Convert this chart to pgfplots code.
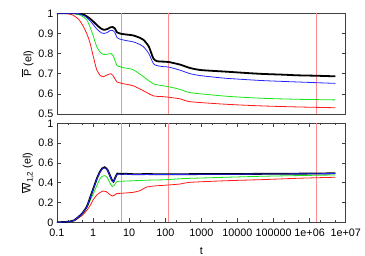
\documentclass[border=0pt]{standalone}
\usepackage{pgfplots}
\pgfplotsset{compat=1.18}
\usepackage{fontspec}
\setmainfont{Liberation Sans}
\definecolor{vline}{rgb}{1,0.55,0.55}
\definecolor{cblue}{rgb}{0.15,0.15,1}
\definecolor{cgreen}{rgb}{0.1,0.9,0.1}
\definecolor{cred}{rgb}{1,0.1,0.1}
\begin{document}
\begin{tikzpicture}
\useasboundingbox (0,0) rectangle (365pt,256pt);
% ---------------- top panel ----------------
\begin{semilogxaxis}[
  scale only axis, width=288.7pt,
  xmin=0.1, xmax=1e7,
  axis line style={black!75, line width=0.8pt},
  tick style={black!75, line width=0.6pt},
  major tick length=4pt, minor tick length=2pt,
  tick align=inside,
  ytick pos=both,
  font=\fontsize{10.8}{13}\selectfont,
  /pgf/number format/assume math mode=true,
  yticklabel style={/pgf/number format/fixed},
  at={(57pt,142pt)}, anchor=south west,
  height=100.7pt,
  ymin=0.5, ymax=1,
  ytick={0.5,0.6,0.7,0.8,0.9,1},
  xtick=\empty, minor xtick={},
  ylabel={$\overline{\mbox{P}}$ (el)},
  ylabel style={yshift=-2pt},
]
\addplot[vline, line width=1pt] coordinates {(6.19,0.5) (6.19,1)};
\addplot[vline, line width=1pt] coordinates {(125.1,0.5) (125.1,1)};
\addplot[vline, line width=1pt] coordinates {(1.516e6,0.5) (1.516e6,1)};
\addplot[cred, line width=0.8pt, smooth, tension=0.4] coordinates {
(0.1,1) (0.2,0.998) (0.28,0.99) (0.4,0.97) (0.54,0.934) (0.7,0.89) (0.83,0.85) (1.0,0.79) (1.26,0.72) (1.6,0.69) (1.94,0.685) (2.5,0.695) (3.16,0.70) (3.6,0.69) (4.54,0.66) (5.5,0.655) (6.12,0.652) (13,0.64) (25,0.615) (47,0.59) (89,0.586) (126,0.583) (261,0.575) (494,0.561) (5100,0.548) (49000,0.54) (460000,0.535) (5.2e6,0.531)};
\addplot[cgreen, line width=0.8pt, smooth, tension=0.4] coordinates {
(0.1,1) (0.2,1) (0.3,0.998) (0.45,0.99) (0.67,0.967) (0.83,0.93) (1.0,0.89) (1.26,0.834) (1.6,0.805) (1.94,0.796) (2.5,0.797) (3.16,0.80) (3.6,0.79) (4.54,0.743) (5.5,0.735) (6.12,0.732) (8,0.728) (13,0.72) (25,0.685) (47,0.65) (89,0.64) (126,0.635) (261,0.622) (494,0.606) (5100,0.588) (49000,0.578) (460000,0.573) (5.2e6,0.570)};
\addplot[black, line width=1.8pt, smooth, tension=0.4] coordinates {
(0.1,1) (0.3,1) (0.44,0.998) (0.6,0.99) (0.8,0.975) (1.0,0.96) (1.3,0.94) (1.7,0.923) (2.0,0.918) (2.5,0.922) (3.0,0.93) (3.5,0.932) (4.0,0.925) (4.6,0.905) (5.5,0.90) (6.1,0.898) (8,0.895) (13,0.89) (20,0.878) (25,0.868) (35,0.835) (47,0.775) (60,0.762) (89,0.76) (126,0.758) (200,0.75) (261,0.745) (494,0.728) (1000,0.718) (5100,0.710) (20000,0.703) (49000,0.699) (200000,0.695) (460000,0.692) (1.5e6,0.69) (5.2e6,0.687)};
\addplot[cblue, line width=0.8pt, smooth, tension=0.4] coordinates {
(0.1,1) (0.3,1) (0.4,0.998) (0.6,0.985) (0.8,0.965) (1.0,0.945) (1.3,0.92) (1.7,0.903) (2.0,0.90) (2.5,0.905) (3.0,0.915) (3.5,0.915) (4.0,0.905) (4.6,0.88) (5.5,0.872) (6.1,0.87) (8,0.865) (13,0.858) (20,0.845) (25,0.834) (35,0.8) (47,0.75) (60,0.74) (89,0.735) (126,0.733) (261,0.717) (494,0.70) (1000,0.69) (5100,0.677) (49000,0.666) (460000,0.659) (5.2e6,0.652)};
\end{semilogxaxis}
% ---------------- bottom panel ----------------
\begin{semilogxaxis}[
  scale only axis, width=288.7pt,
  xmin=0.1, xmax=1e7,
  axis line style={black!75, line width=0.8pt},
  tick style={black!75, line width=0.6pt},
  major tick length=4pt, minor tick length=2pt,
  tick align=inside,
  ytick pos=both,
  font=\fontsize{10.8}{13}\selectfont,
  /pgf/number format/assume math mode=true,
  yticklabel style={/pgf/number format/fixed},
  xticklabel style={yshift=-3pt},
  at={(57pt,33.7pt)}, anchor=south west,
  height=99pt,
  ymin=0, ymax=1,
  ytick={0,0.2,0.4,0.6,0.8,1},
  xtick={0.1,1,10,100,1000,10000,100000,1000000,10000000},
  xticklabels={0.1,1,10,100,1000,10000,100000,1e+06,1e+07},
  minor xtick={0.2,0.5,2,5,20,50,200,500,2000,5000,20000,50000,200000,500000,2000000,5000000},
  xtick pos=both,
  xlabel={t},
  xlabel style={yshift=-4pt},
  ylabel={$\overline{\mbox{W}}_{\mbox{\fontsize{8}{9}\selectfont 1,2}}$ (el)},
  ylabel style={yshift=-2pt},
]
\addplot[vline, line width=1pt] coordinates {(6.19,0) (6.19,1)};
\addplot[vline, line width=1pt] coordinates {(125.1,0) (125.1,1)};
\addplot[vline, line width=1pt] coordinates {(1.516e6,0) (1.516e6,1)};
\addplot[cred, line width=0.8pt, smooth, tension=0.4] coordinates {
(0.1,0) (0.2,0.005) (0.3,0.018) (0.4,0.045) (0.5,0.07) (0.67,0.12) (0.83,0.17) (1.02,0.232) (1.3,0.28) (1.55,0.30) (1.9,0.316) (2.3,0.31) (2.9,0.28) (3.4,0.266) (3.8,0.27) (4.5,0.29) (6.1,0.293) (13,0.303) (20,0.32) (30,0.355) (50,0.367) (126,0.377) (261,0.387) (494,0.404) (5000,0.42) (49000,0.431) (500000,0.445) (5.2e6,0.455)};
\addplot[cgreen, line width=0.8pt, smooth, tension=0.4] coordinates {
(0.1,0) (0.2,0.005) (0.3,0.02) (0.4,0.055) (0.5,0.085) (0.67,0.15) (0.83,0.22) (1.02,0.29) (1.3,0.38) (1.55,0.44) (1.8,0.465) (2.1,0.471) (2.5,0.45) (2.9,0.40) (3.4,0.36) (3.8,0.37) (4.5,0.41) (5.5,0.415) (6.1,0.415) (10,0.418) (30,0.425) (100,0.43) (261,0.44) (494,0.444) (5000,0.455) (50000,0.465) (500000,0.472) (5.2e6,0.478)};
\addplot[black, line width=1.8pt, smooth, tension=0.4] coordinates {
(0.1,0) (0.2,0.005) (0.3,0.02) (0.4,0.057) (0.5,0.09) (0.67,0.158) (0.83,0.25) (1.02,0.343) (1.3,0.45) (1.55,0.51) (1.8,0.545) (2.1,0.556) (2.5,0.53) (2.9,0.478) (3.3,0.43) (3.67,0.41) (4.1,0.45) (4.7,0.492) (5.5,0.49) (6.1,0.488) (8,0.49) (15,0.485) (30,0.487) (100,0.485) (1000,0.487) (10000,0.488) (100000,0.49) (1000000,0.492) (5.2e6,0.495)};
\addplot[cblue, line width=0.8pt, smooth, tension=0.4] coordinates {
(0.1,0) (0.2,0.005) (0.3,0.02) (0.4,0.056) (0.5,0.089) (0.67,0.156) (0.83,0.247) (1.02,0.34) (1.3,0.446) (1.55,0.506) (1.8,0.54) (2.1,0.551) (2.5,0.526) (2.9,0.474) (3.3,0.427) (3.67,0.407) (4.1,0.447) (4.7,0.488) (5.5,0.487) (6.1,0.485) (8,0.487) (15,0.482) (30,0.484) (100,0.483) (1000,0.485) (10000,0.486) (100000,0.488) (1000000,0.49) (5.2e6,0.493)};
\end{semilogxaxis}
\end{tikzpicture}
\end{document}
